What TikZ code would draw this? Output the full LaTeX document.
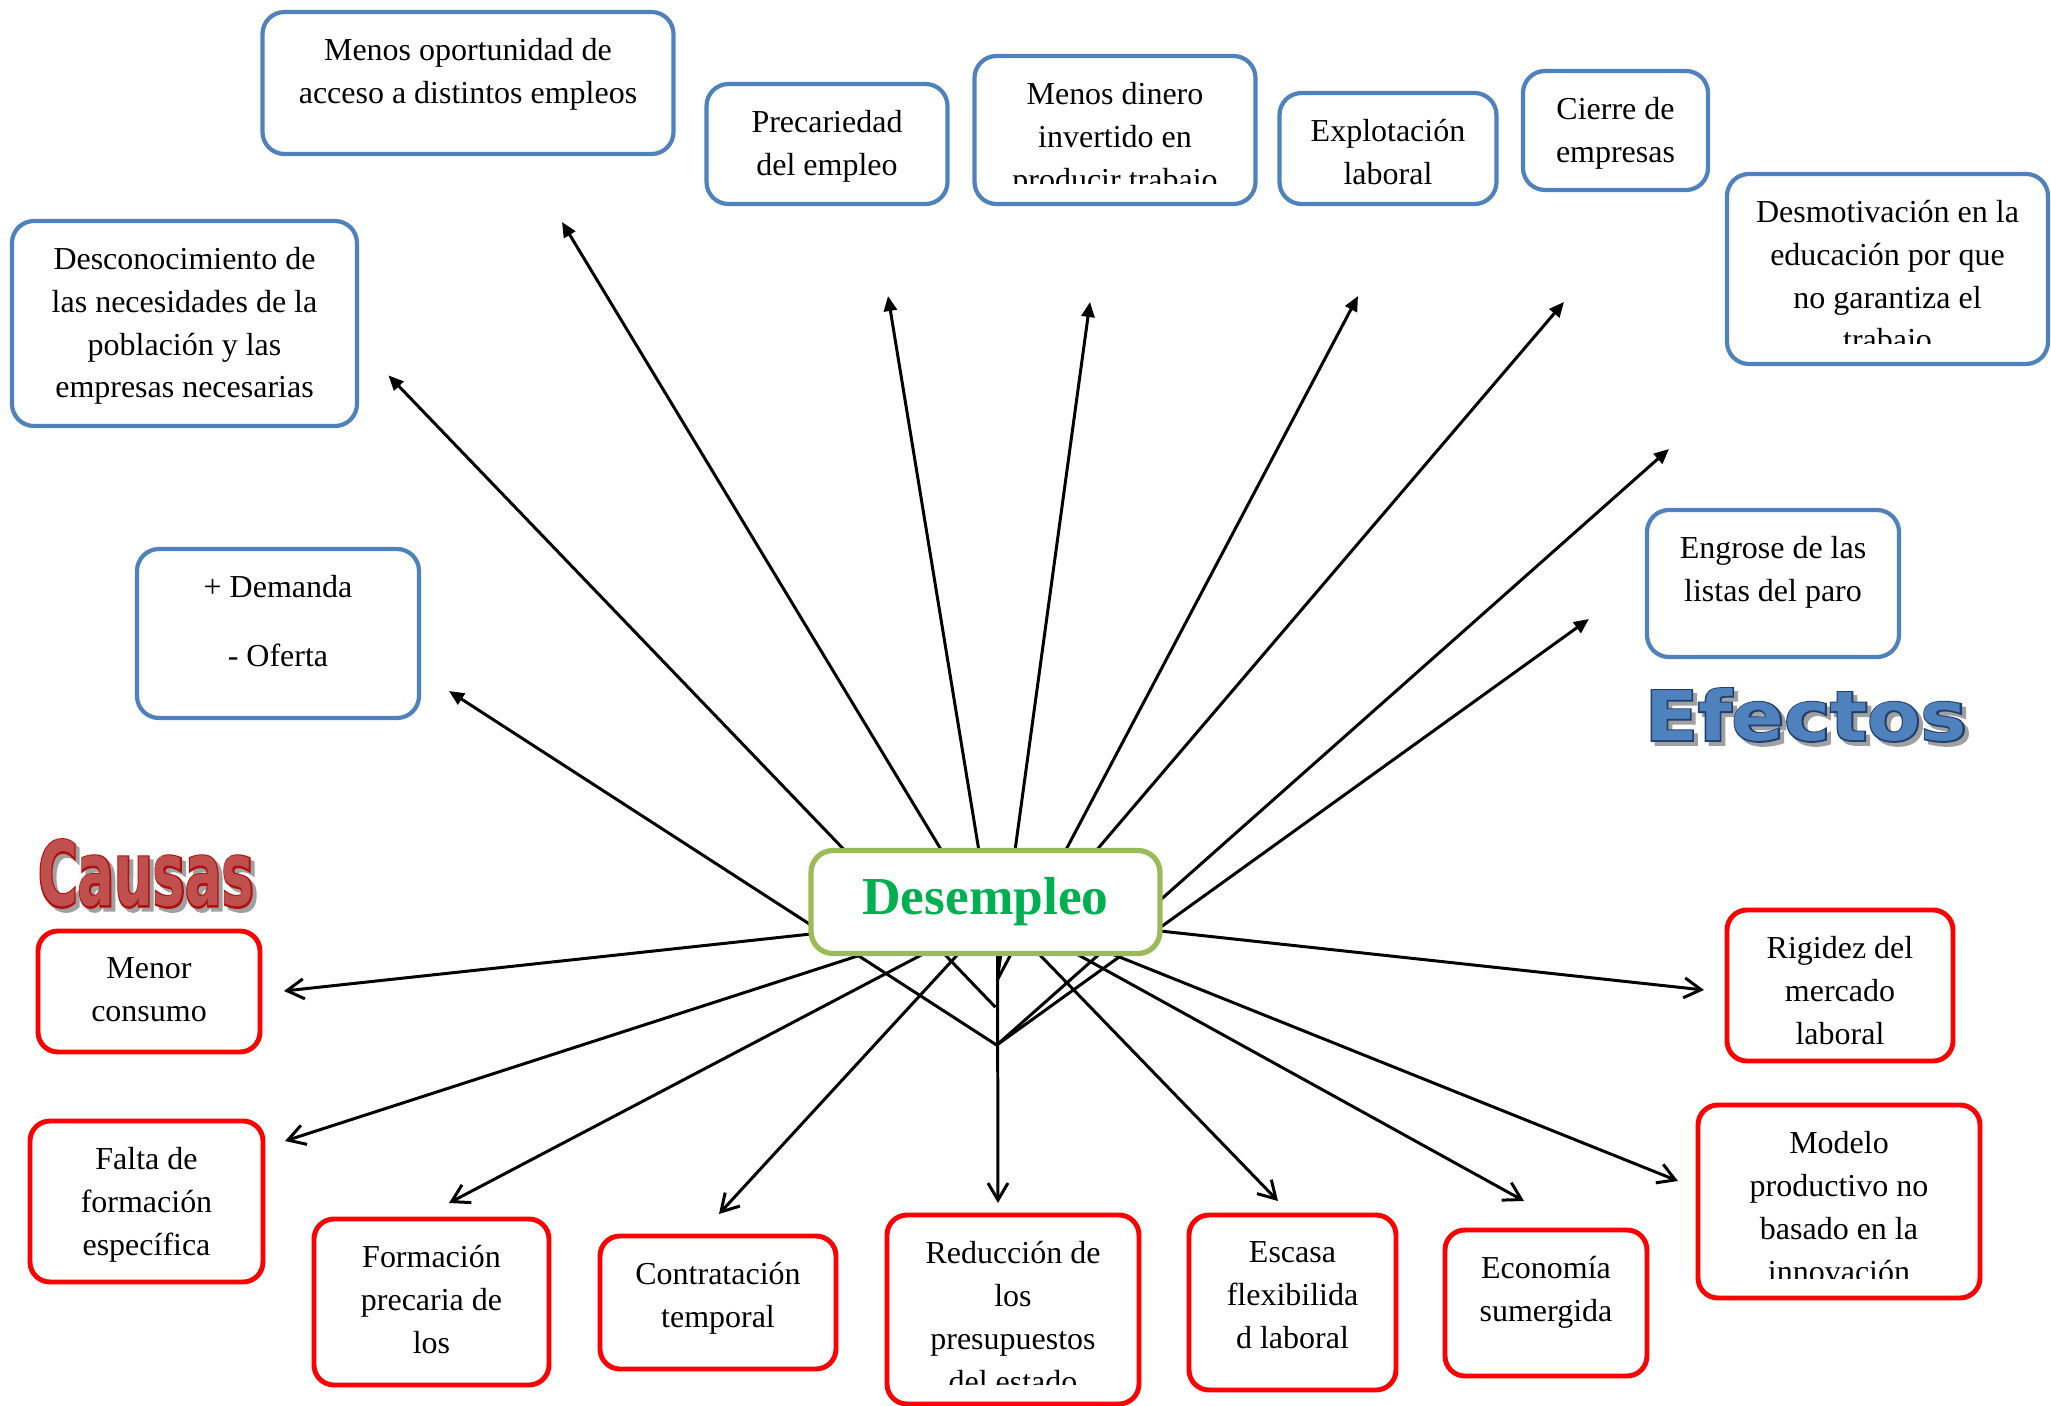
\documentclass[tikz,border=0pt]{standalone}
\usepackage{fontspec}
\setmainfont{Liberation Serif}
\newfontface\causasfont{DejaVu Sans Condensed Bold}
\newfontface\causasedgefont{DejaVu Sans Condensed Bold}[FakeBold=4]
\newfontface\efectosfont{DejaVu Sans Bold}
\newfontface\efectosedgefont{DejaVu Sans Bold}[FakeBold=4]
\usetikzlibrary{arrows.meta,backgrounds,positioning}

\definecolor{boxblue}{HTML}{4F81BD}
\definecolor{boxred}{HTML}{FF0000}
\definecolor{boxgreen}{HTML}{9BBB59}
\definecolor{textgreen}{HTML}{00B050}
\definecolor{causasfill}{HTML}{C0504D}
\definecolor{causasedge}{HTML}{B01010}
\definecolor{efectosfill}{HTML}{4F81BD}
\definecolor{efectosedge}{HTML}{1F3F6E}
\definecolor{shadowgray}{HTML}{A0A0A0}

\newcommand{\boxfont}{\fontsize{9.1pt}{12.2pt}\selectfont}

\tikzset{
  box text/.style={path picture={
    \node[anchor=north,align=center,inner sep=0pt,minimum width=0pt,minimum height=0pt,font=\boxfont]
      at ([yshift=-0.24cm]path picture bounding box.north) {#1};}},
  cut text/.style={path picture={
    \clip ([yshift=0.2cm]path picture bounding box.south west) rectangle (path picture bounding box.north east);
    \node[anchor=north,align=center,inner sep=0pt,minimum width=0pt,minimum height=0pt,font=\boxfont]
      at ([yshift=-0.24cm]path picture bounding box.north) {#1};}}
}

\begin{document}
\begin{tikzpicture}
  \tikzstyle{blue box}=[draw=boxblue,line width=1.2pt,rounded corners=0.22cm,fill=white,inner sep=0pt]
  \tikzstyle{red box}=[draw=boxred,line width=1.4pt,rounded corners=0.2cm,fill=white,inner sep=0pt]
  \tikzstyle{main box}=[draw=boxgreen,line width=1.5pt,rounded corners=0.22cm,fill=white,inner sep=0pt,
    text=textgreen,font=\fontsize{15.2pt}{18pt}\selectfont\bfseries]
  \tikzstyle{effect arrow}=[-{Triangle[length=0.15cm,width=0.13cm]},line width=0.85pt]
  \tikzstyle{cause arrow}=[-{Straight Barb[length=0.17cm,width=0.2cm]},line width=0.85pt]

  \useasboundingbox (0,0) rectangle (20.51,-14.06);

  % center
  \node[main box,minimum width=3.49cm,minimum height=1.03cm] (desempleo) at (9.855,-9.02) {Desempleo};

  % effects (blue)
  \node[blue box,minimum width=4.11cm,minimum height=1.42cm,
    box text={Menos oportunidad de\\acceso a distintos empleos}] (oportunidad) at (4.68,-0.83) {};
  \node[blue box,minimum width=2.41cm,minimum height=1.20cm,
    box text={Precariedad\\del empleo}] (precariedad) at (8.27,-1.44) {};
  \node[blue box,minimum width=2.81cm,minimum height=1.48cm,
    cut text={Menos dinero\\invertido en\\producir trabajo}] (dinero) at (11.15,-1.30) {};
  \node[blue box,minimum width=2.17cm,minimum height=1.11cm,
    box text={Explotación\\laboral}] (explotacion) at (13.88,-1.485) {};
  \node[blue box,minimum width=1.85cm,minimum height=1.19cm,
    box text={Cierre de\\empresas}] (cierre) at (16.155,-1.305) {};
  \node[blue box,minimum width=3.21cm,minimum height=1.90cm,
    cut text={Desmotivación en la\\educación por que\\no garantiza el\\trabajo}] (desmotivacion) at (18.875,-2.69) {};
  \node[blue box,minimum width=2.52cm,minimum height=1.47cm,
    box text={Engrose de las\\listas del paro}] (engrose) at (17.73,-5.835) {};
  \node[blue box,minimum width=3.45cm,minimum height=2.05cm,
    box text={Desconocimiento de\\las necesidades de la\\población y las\\empresas necesarias}] (desconocimiento) at (1.845,-3.235) {};
  \node[blue box,minimum width=2.82cm,minimum height=1.69cm,
    box text={+ Demanda\\[7.4pt]- Oferta}] (demanda) at (2.78,-6.335) {};

  % causes (red)
  \node[red box,minimum width=2.22cm,minimum height=1.21cm,
    box text={Menor\\consumo}] (menor) at (1.49,-9.915) {};
  \node[red box,minimum width=2.33cm,minimum height=1.61cm,
    box text={Falta de\\formación\\específica}] (falta) at (1.465,-12.015) {};
  \node[red box,minimum width=2.35cm,minimum height=1.66cm,
    box text={Formación\\precaria de\\los}] (formacion) at (4.315,-13.02) {};
  \node[red box,minimum width=2.36cm,minimum height=1.33cm,
    box text={Contratación\\temporal}] (contratacion) at (7.18,-13.025) {};
  \node[red box,minimum width=2.52cm,minimum height=1.89cm,
    cut text={Reducción de\\los\\presupuestos\\del estado}] (reduccion) at (10.13,-13.095) {};
  \node[red box,minimum width=2.07cm,minimum height=1.75cm,
    box text={Escasa\\flexibilida\\d laboral}] (escasa) at (12.925,-13.025) {};
  \node[red box,minimum width=2.02cm,minimum height=1.46cm,
    box text={Economía\\sumergida}] (economia) at (15.46,-13.03) {};
  \node[red box,minimum width=2.26cm,minimum height=1.51cm,
    box text={Rigidez del\\mercado\\laboral}] (rigidez) at (18.40,-9.855) {};
  \node[red box,minimum width=2.82cm,minimum height=1.93cm,
    cut text={Modelo\\productivo no\\basado en la\\innovación}] (modelo) at (18.39,-12.015) {};

  % word art titles
  \node[text=shadowgray] (causas shadow) at (1.50,-8.775) {\resizebox{2.16cm}{0.66cm}{\causasedgefont Causas}};
  \node[text=causasedge] (causas edge) at (1.46,-8.735) {\resizebox{2.16cm}{0.66cm}{\causasedgefont Causas}};
  \node[text=causasfill] (causas) at (1.46,-8.735) {\resizebox{2.16cm}{0.66cm}{\causasfont Causas}};
  \node[text=shadowgray] (efectos shadow) at (18.10,-7.19) {\resizebox{3.22cm}{0.52cm}{\efectosedgefont Efectos}};
  \node[text=efectosedge] (efectos edge) at (18.06,-7.15) {\resizebox{3.22cm}{0.52cm}{\efectosedgefont Efectos}};
  \node[text=efectosfill] (efectos) at (18.06,-7.15) {\resizebox{3.22cm}{0.52cm}{\efectosfont Efectos}};

  % arrow ends
  \coordinate (conv) at (9.967,-10.451);
  \coordinate (vtip) at (9.973,-9.80);
  \coordinate (dtail) at (9.954,-10.072);
  \coordinate (t-oport) at (9.715,-9.00);
  \coordinate (t-prec) at (9.87,-9.00);
  \coordinate (t-cierre) at (10.37,-9.20);
  \coordinate (h-oport) at (5.62,-2.22);
  \coordinate (h-prec) at (8.88,-2.96);
  \coordinate (h-dinero) at (10.90,-3.02);
  \coordinate (h-explot) at (13.58,-2.96);
  \coordinate (h-cierre) at (15.64,-3.02);
  \coordinate (h-desmot) at (16.69,-4.49);
  \coordinate (h-engrose) at (15.89,-6.19);
  \coordinate (h-demanda) at (4.49,-6.91);
  \coordinate (h-descon) at (3.885,-3.754);

  \coordinate (t-menor) at (8.11,-9.34);
  \coordinate (t-falta) at (8.70,-9.52);
  \coordinate (t-formac) at (9.27,-9.52);
  \coordinate (t-contrat) at (9.60,-9.52);
  \coordinate (t-reduc) at (9.975,-9.52);
  \coordinate (t-escasa) at (10.37,-9.52);
  \coordinate (t-econ) at (10.73,-9.52);
  \coordinate (t-rigidez) at (11.60,-9.31);
  \coordinate (t-modelo) at (11.07,-9.52);
  \coordinate (h-menor) at (2.84,-9.91);
  \coordinate (h-falta) at (2.85,-11.41);
  \coordinate (h-formac) at (4.49,-12.03);
  \coordinate (h-contrat) at (7.19,-12.14);
  \coordinate (h-reduc) at (9.98,-12.03);
  \coordinate (h-escasa) at (12.78,-12.01);
  \coordinate (h-econ) at (15.24,-12.01);
  \coordinate (h-rigidez) at (17.04,-9.90);
  \coordinate (h-modelo) at (16.78,-11.81);

  \begin{pgfonlayer}{background}
    % effects
    \draw[effect arrow] (t-oport) -- (h-oport);
    \draw[effect arrow] (t-prec) -- (h-prec);
    \draw[effect arrow] (vtip) -- (h-dinero);
    \draw[effect arrow] (vtip) -- (h-explot);
    \draw[effect arrow] (t-cierre) -- (h-cierre);
    \draw[effect arrow] (conv) -- (h-desmot);
    \draw[effect arrow] (conv) -- (h-engrose);
    \draw[effect arrow] (conv) -- (h-demanda);
    \draw[effect arrow] (dtail) -- (h-descon);
    % causes
    \draw[cause arrow] (t-menor) -- (h-menor);
    \draw[cause arrow] (t-falta) -- (h-falta);
    \draw[cause arrow] (t-formac) -- (h-formac);
    \draw[cause arrow] (t-contrat) -- (h-contrat);
    \draw[cause arrow] (t-reduc) -- (h-reduc);
    \draw[cause arrow] (t-escasa) -- (h-escasa);
    \draw[cause arrow] (t-econ) -- (h-econ);
    \draw[cause arrow] (t-rigidez) -- (h-rigidez);
    \draw[cause arrow] (t-modelo) -- (h-modelo);
  \end{pgfonlayer}
\end{tikzpicture}
\end{document}
